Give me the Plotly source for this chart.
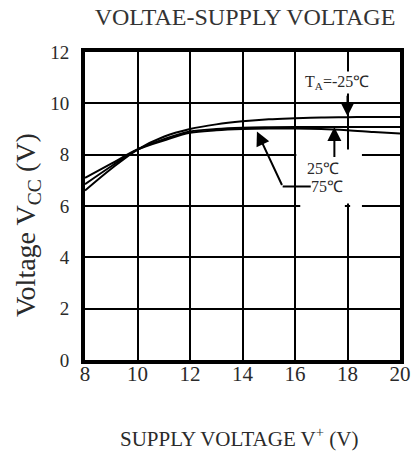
import plotly.graph_objects as go

supply_v = [8, 9, 10, 11, 12, 13, 14, 15, 16, 17, 18, 19, 20]
vcc_m25 = [6.6, 7.45, 8.2, 8.7, 9.0, 9.18, 9.3, 9.38, 9.42, 9.45, 9.46, 9.47, 9.47]
vcc_25 = [6.85, 7.55, 8.2, 8.6, 8.9, 9.0, 9.05, 9.07, 9.08, 9.08, 9.08, 9.08, 9.08]
vcc_75 = [7.1, 7.65, 8.2, 8.55, 8.85, 8.95, 9.0, 9.02, 9.02, 9.0, 8.95, 8.88, 8.82]
x_ticks = [8, 10, 12, 14, 16, 18, 20]
y_ticks = [0, 2, 4, 6, 8, 10, 12]

SERIF = "Liberation Serif, Times New Roman, serif"
TXT = "#2a2a2a"

W, H = 414, 451
L, R, T, B = 85, 14, 52, 91
PW, PH = W - L - R, H - T - B


def px_to_paper(px, py):
    return (px - L) / PW, (H - B - py) / PH


fig = go.Figure()
for name, ys in [("-25", vcc_m25), ("25", vcc_25), ("75", vcc_75)]:
    fig.add_trace(go.Scatter(x=supply_v, y=ys, mode="lines", name=name,
                             line=dict(color="black", width=2, shape="spline"),
                             showlegend=False, hoverinfo="skip"))

# white patches breaking the grid behind labels
fig.add_shape(type="rect", xref="x", yref="y", x0=16.05, x1=18.55, y0=6.1, y1=8.2,
              fillcolor="white", line_width=0, layer="above")
fig.add_shape(type="rect", xref="x", yref="y", x0=16.2, x1=17.9, y0=5.9, y1=6.1,
              fillcolor="white", line_width=0, layer="above")
fig.add_shape(type="rect", xref="x", yref="y", x0=18.1, x1=18.55, y0=5.9, y1=6.1,
              fillcolor="white", line_width=0, layer="above")
# horizontal leader of 75C label
fig.add_shape(type="line", xref="x", yref="y", x0=15.53, x1=16.6, y0=6.76, y1=6.76,
              line=dict(color="black", width=2), layer="above")

yt_x, yt_y = px_to_paper(27, 225)
xt_x, xt_y = px_to_paper(239, 437)

ann = [
    dict(x=17.6, y=10.8, text="T<sub>A</sub>=-25℃", showarrow=False,
         font=dict(family=SERIF, size=16, color=TXT), bgcolor="white"),
    dict(x=18, y=9.5, ax=18, ay=10.35, axref="x", ayref="y", text="",
         showarrow=True, arrowhead=2, arrowsize=1.4, arrowwidth=2, arrowcolor="black"),
    dict(x=17.05, y=7.46, text="25℃", showarrow=False,
         font=dict(family=SERIF, size=16, color=TXT)),
    dict(x=17.5, y=9.08, ax=17.5, ay=7.85, axref="x", ayref="y", text="",
         showarrow=True, arrowhead=2, arrowsize=1.4, arrowwidth=2, arrowcolor="black"),
    dict(x=16.55, y=6.76, text="75℃", showarrow=False, xanchor="left",
         font=dict(family=SERIF, size=16, color=TXT)),
    dict(x=14.55, y=8.9, ax=15.53, ay=6.76, axref="x", ayref="y", text="",
         showarrow=True, arrowhead=2, arrowsize=1.4, arrowwidth=2, arrowcolor="black"),
    dict(x=yt_x, y=yt_y, xref="paper", yref="paper", text="Voltage V<sub>CC</sub> (V)",
         textangle=-90, showarrow=False, xanchor="center", yanchor="middle",
         font=dict(family=SERIF, size=28, color=TXT)),
    dict(x=xt_x, y=xt_y, xref="paper", yref="paper",
         text="SUPPLY VOLTAGE V<sup>+</sup> (V)", showarrow=False,
         xanchor="center", yanchor="middle",
         font=dict(family=SERIF, size=21, color=TXT)),
]

fig.update_layout(
    width=W, height=H,
    margin=dict(l=L, r=R, t=T, b=B, autoexpand=False),
    paper_bgcolor="white", plot_bgcolor="white",
    title=dict(text="VOLTAE-SUPPLY VOLTAGE", x=245 / W, xanchor="center", y=1 - 17 / H, yanchor="middle",
               font=dict(family=SERIF, size=24, color="#333")),
    annotations=ann,
    xaxis=dict(range=[8, 20], tickvals=x_ticks, ticktext=[str(v) for v in x_ticks],
               showgrid=True, gridcolor="black", gridwidth=2, zeroline=False,
               showline=True, linecolor="black", linewidth=4, mirror=True,
               ticks="", tickfont=dict(family=SERIF, size=21, color=TXT),
               ticklabelstandoff=-8, automargin=False),
    yaxis=dict(range=[0, 12], tickvals=y_ticks, ticktext=[str(v) for v in y_ticks],
               showgrid=True, gridcolor="black", gridwidth=2, zeroline=False,
               showline=True, linecolor="black", linewidth=4, mirror=True,
               ticks="", tickfont=dict(family=SERIF, size=19, color=TXT),
               ticklabelstandoff=8, automargin=False),
)

fig.write_html("out.html", config={"displayModeBar": False},
               post_script="document.body.style.margin='0';")
